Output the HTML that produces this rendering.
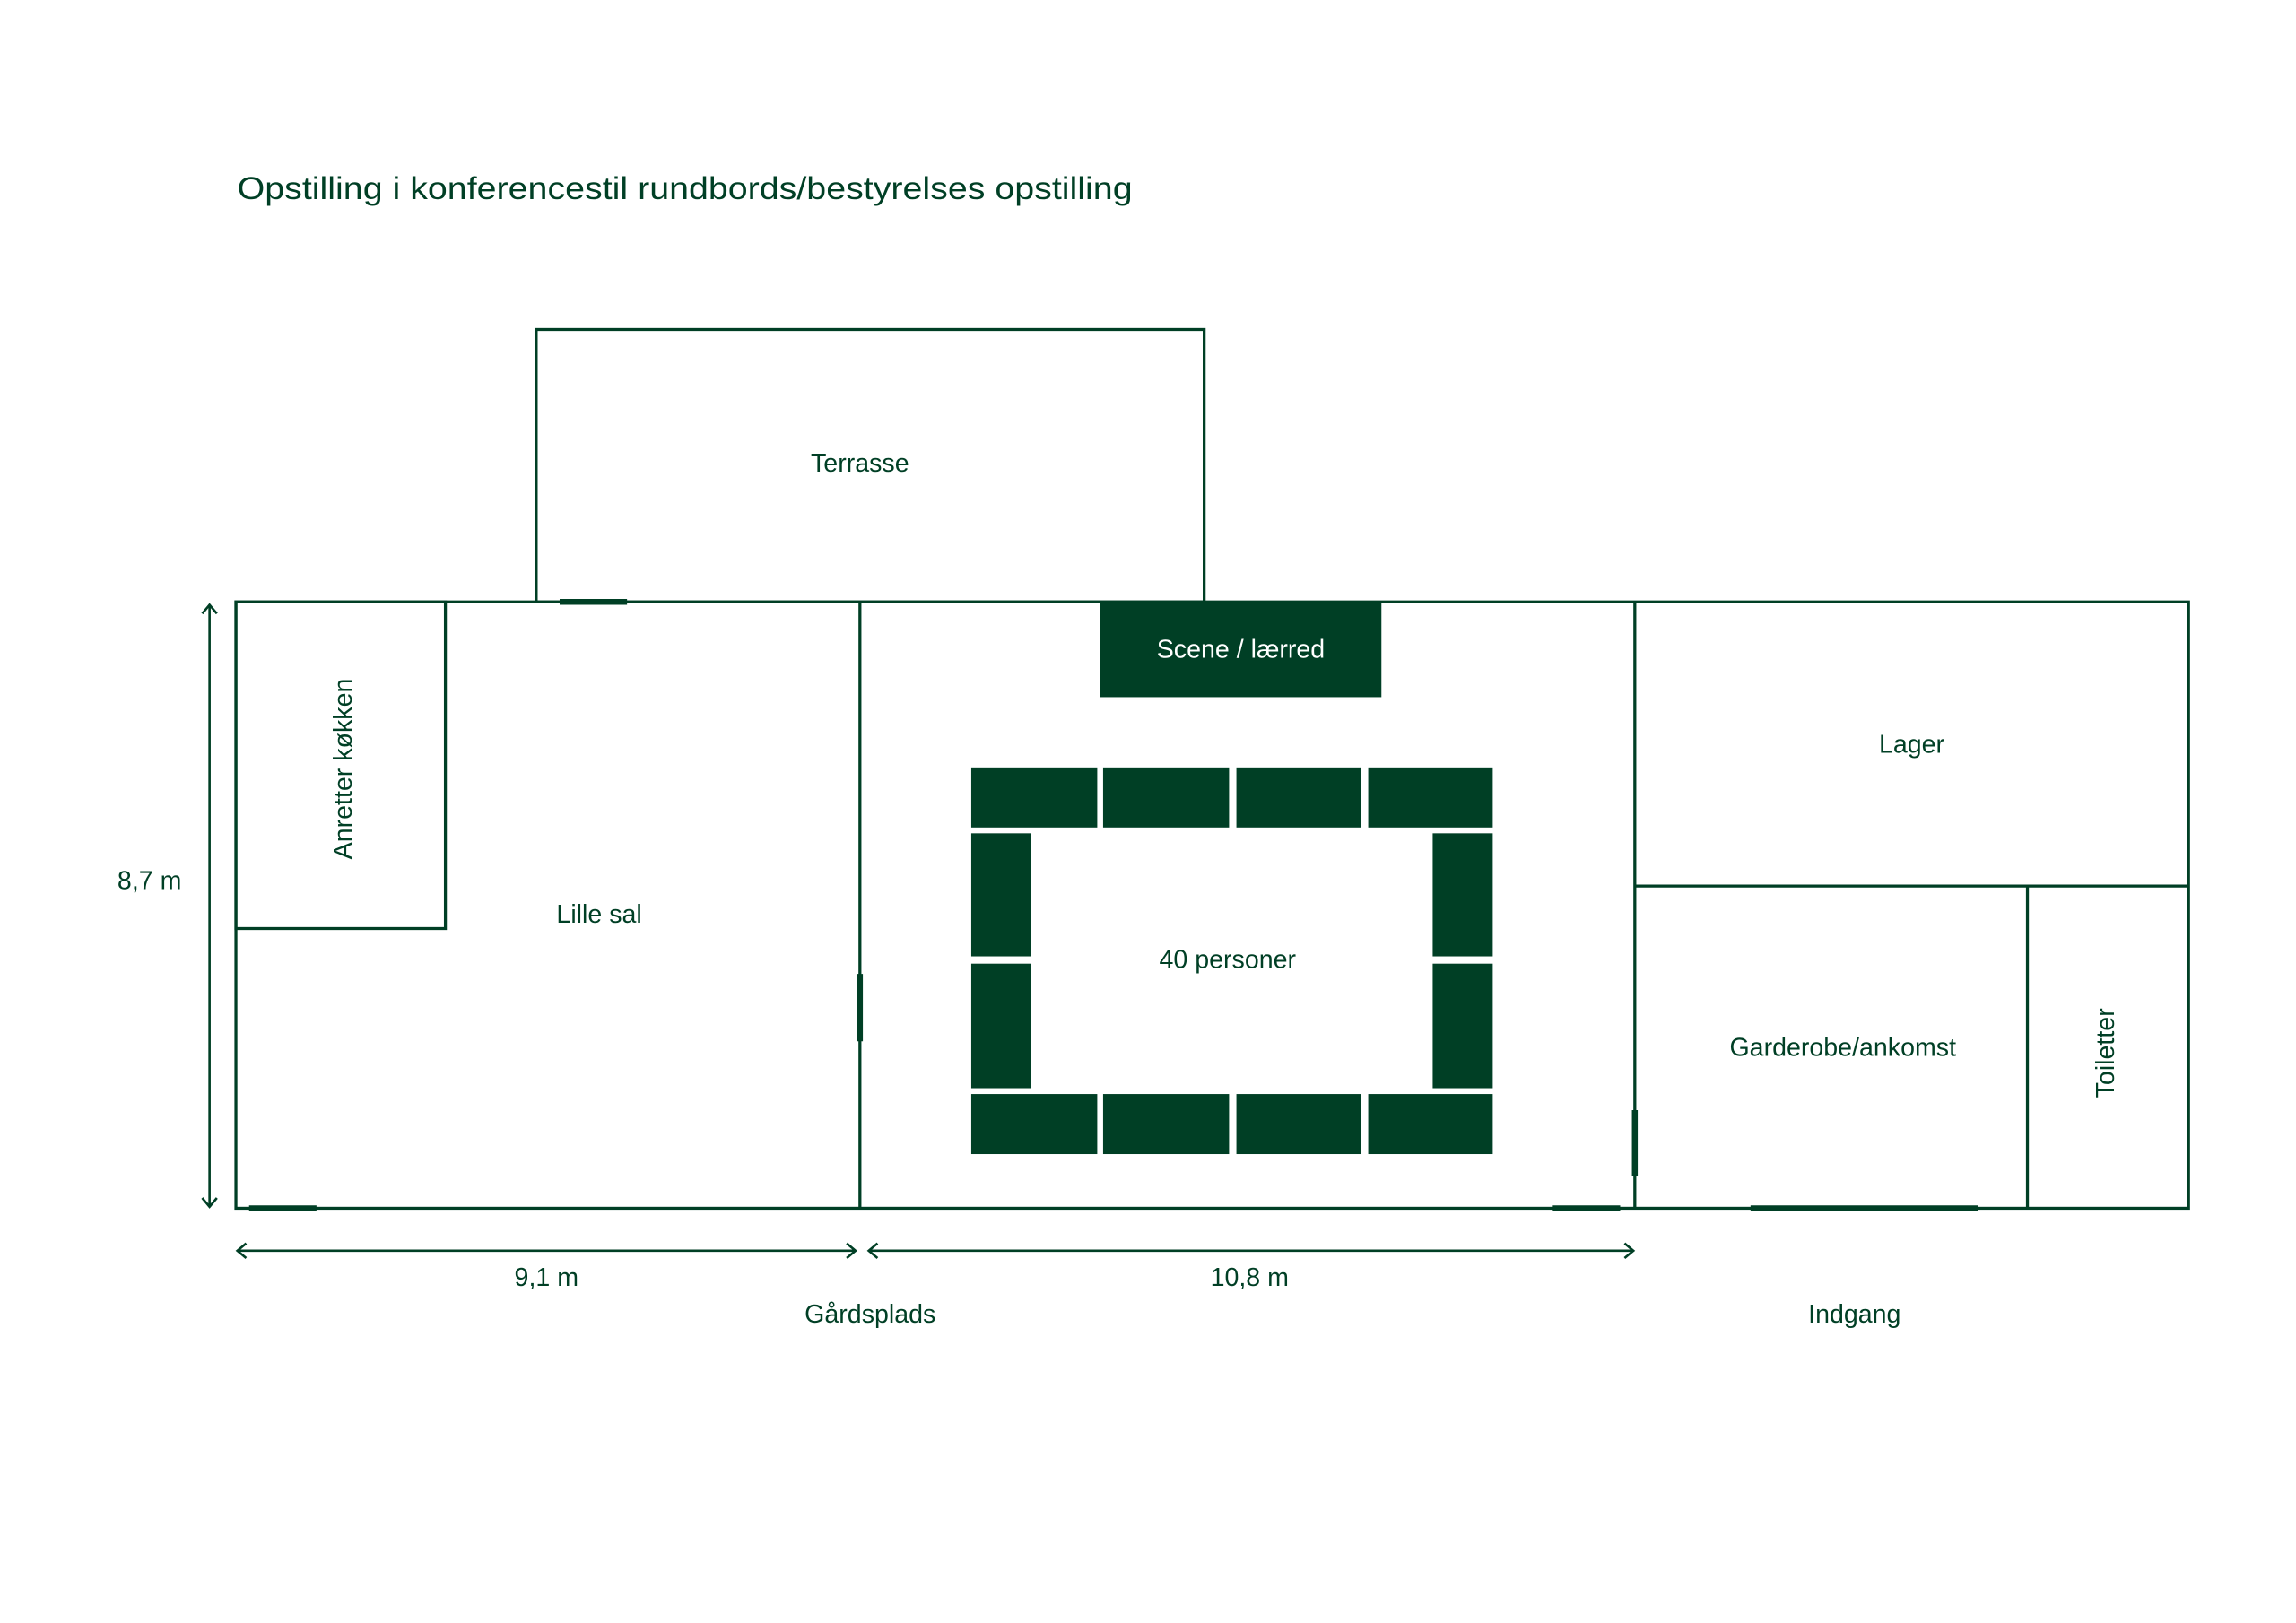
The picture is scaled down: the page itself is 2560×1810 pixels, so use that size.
<!DOCTYPE html>
<html><head><meta charset="utf-8"><style>
html,body{margin:0;padding:0;background:#fff;}
svg{display:block;}
text{font-family:"Liberation Sans",sans-serif;fill:#003f25;}
</style></head><body>
<svg width="2560" height="1810" viewBox="0 0 1567.3 1108.2" xmlns="http://www.w3.org/2000/svg">
<rect width="1568" height="1109" fill="#fff"/>
<text x="162" y="136" font-size="21.5" textLength="611" lengthAdjust="spacingAndGlyphs">Opstilling i konferencestil rundbords/bestyrelses opstilling</text>
<g fill="none" stroke="#003f25" stroke-width="2">
<rect x="366" y="225" width="456" height="186"/>
<rect x="161" y="411" width="1333" height="414"/>
<rect x="161" y="411" width="143" height="223"/>
<line x1="587" y1="411" x2="587" y2="825"/>
<line x1="1116" y1="411" x2="1116" y2="825"/>
<line x1="1116" y1="605" x2="1494" y2="605"/>
<line x1="1384" y1="605" x2="1384" y2="825"/>
</g>
<g stroke="#003f25" stroke-width="4">
<line x1="382" y1="411" x2="428" y2="411"/>
<line x1="170" y1="825" x2="216" y2="825"/>
<line x1="587" y1="665" x2="587" y2="711"/>
<line x1="1060" y1="825" x2="1106" y2="825"/>
<line x1="1116" y1="758" x2="1116" y2="803"/>
<line x1="1195" y1="825" x2="1350" y2="825"/>
</g>
<g fill="#003f25">
<rect x="751" y="411" width="192" height="65"/>
<rect x="663" y="524" width="86" height="41"/><rect x="753" y="524" width="86" height="41"/><rect x="844" y="524" width="85" height="41"/><rect x="934" y="524" width="85" height="41"/>
<rect x="663" y="747" width="86" height="41"/><rect x="753" y="747" width="86" height="41"/><rect x="844" y="747" width="85" height="41"/><rect x="934" y="747" width="85" height="41"/>
<rect x="663" y="569" width="41" height="84"/><rect x="663" y="658" width="41" height="85"/>
<rect x="978" y="569" width="41" height="84"/><rect x="978" y="658" width="41" height="85"/>
</g>
<g fill="none" stroke="#003f25" stroke-width="1.6">
<line x1="143" y1="413" x2="143" y2="824"/>
<polyline points="138,419 143,413 148,419"/><polyline points="138,818 143,824 148,818"/>
<line x1="162" y1="854" x2="584" y2="854"/>
<polyline points="168,849 162,854 168,859"/><polyline points="578,849 584,854 578,859"/>
<line x1="593" y1="854" x2="1115" y2="854"/>
<polyline points="599,849 593,854 599,859"/><polyline points="1109,849 1115,854 1109,859"/>
</g>
<g font-size="17.5" text-anchor="middle">
<text x="587" y="322">Terrasse</text>
<text x="409" y="630">Lille sal</text>
<text x="847" y="449" style="fill:#fff">Scene / lærred</text>
<text x="838" y="661">40 personer</text>
<text x="1305" y="514">Lager</text>
<text x="1258" y="721">Garderobe/ankomst</text>
<text x="102" y="607">8,7 m</text>
<text x="373" y="878">9,1 m</text>
<text x="853" y="878">10,8 m</text>
<text x="594" y="903">Gårdsplads</text>
<text x="1266" y="903">Indgang</text>
<text transform="translate(240,525) rotate(-90)">Anretter køkken</text>
<text transform="translate(1443,719) rotate(-90)">Toiletter</text>
</g>
</svg>
</body></html>
